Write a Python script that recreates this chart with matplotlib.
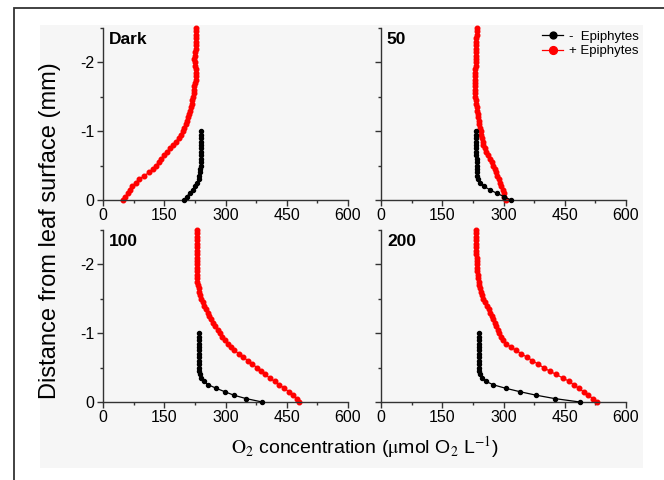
"""Oxygen micro-profiles above leaf surface, with and without epiphytes."""
import matplotlib
matplotlib.use('Agg')
import matplotlib.pyplot as plt
from matplotlib.patches import Rectangle
from matplotlib.ticker import MultipleLocator

plt.rcParams['font.family'] = ['Liberation Sans', 'DejaVu Sans']
plt.rcParams['mathtext.fontset'] = 'stix'
plt.rcParams['axes.unicode_minus'] = False

PANELS = ['Dark', '50', '100', '200']

# depth (mm) of each measurement, 0 = leaf surface
RED_DEPTH = [0, -0.05, -0.1, -0.15, -0.2, -0.25, -0.3, -0.35, -0.4, -0.45,
             -0.5, -0.55, -0.6, -0.65, -0.7, -0.75, -0.8, -0.85, -0.9, -0.95,
             -1.0, -1.05, -1.1, -1.15, -1.2, -1.25, -1.3, -1.35, -1.4, -1.45,
             -1.5, -1.55, -1.6, -1.65, -1.7, -1.75, -1.8, -1.85, -1.9, -1.95,
             -2.0, -2.05, -2.1, -2.15, -2.2, -2.25, -2.3, -2.35, -2.4, -2.45, -2.5]
BLACK_DEPTH = [0, -0.05, -0.1, -0.15, -0.2, -0.25, -0.3, -0.35, -0.4, -0.45,
               -0.5, -0.55, -0.6, -0.65, -0.7, -0.75, -0.8, -0.85, -0.9, -0.95, -1.0]

# O2 (umol/L), + epiphytes
red_dark = [50, 55, 61, 67, 72, 80, 88, 100, 113, 122, 130, 136, 143, 150, 157, 164, 172,
            178, 186, 191, 195, 199, 203, 206, 208, 211, 213, 216, 218, 219, 221, 222, 224,
            224, 226, 227, 227, 228, 227, 226, 225, 224, 225, 226, 227, 227, 227, 228, 228,
            228, 228]
red_50 = [305, 302, 300, 298, 295, 292, 289, 285, 282, 278, 275, 271, 267, 262, 258, 254, 251,
          249, 247, 246, 244, 242, 241, 239, 238, 237, 235, 234, 233, 232, 231, 230, 230,
          229, 229, 229, 229, 230, 231, 232, 232, 232, 232, 233, 233, 233, 233, 233, 234,
          234, 234]
red_100 = [481, 474, 465, 455, 444, 432, 420, 408, 397, 386, 377, 366, 355, 344, 333, 322, 313,
           305, 298, 292, 287, 281, 275, 269, 264, 260, 256, 252, 248, 245, 241, 238, 236,
           234, 232, 231, 231, 231, 231, 231, 231, 231, 230, 230, 230, 230, 230, 230, 230,
           230, 230]
red_200 = [530, 519, 507, 496, 484, 472, 461, 445, 429, 413, 398, 385, 371, 358, 344, 331, 318,
           306, 299, 294, 290, 286, 282, 278, 275, 271, 268, 264, 259, 255, 251, 248, 245,
           243, 241, 239, 238, 237, 236, 235, 234, 234, 234, 233, 233, 233, 233, 233, 233,
           233, 233]

# O2 (umol/L), - epiphytes
black_dark = [198, 205, 212, 220, 226, 230, 234, 236, 237, 238, 239, 239, 240, 240, 240, 240,
              240, 240, 240, 240, 240]
black_50 = [318, 301, 283, 266, 252, 243, 238, 236, 235, 234, 234, 234, 234, 233, 233, 233,
            233, 233, 233, 233, 233]
black_100 = [390, 350, 320, 298, 277, 258, 247, 240, 237, 236, 235, 235, 235, 235, 235, 235,
             235, 235, 235, 235, 235]
black_200 = [487, 425, 379, 340, 305, 275, 257, 247, 242, 241, 240, 240, 240, 240, 240, 240,
             240, 240, 240, 240, 240]

RED = [red_dark, red_50, red_100, red_200]
BLACK = [black_dark, black_50, black_100, black_200]

W, H = 664, 480
AX_POS = [(103, 28), (381, 28), (103, 230), (381, 230)]  # left, top in pixels
AX_W, AX_H = 245, 172
AXIS_COL = '#333333'


def style_axis(ax, show_ylabels):
    ax.set_facecolor('none')
    ax.set_xlim(0, 600)
    ax.set_ylim(0, -2.5)
    ax.xaxis.set_major_locator(MultipleLocator(150))
    ax.xaxis.set_minor_locator(MultipleLocator(75))
    ax.yaxis.set_major_locator(MultipleLocator(1))
    ax.yaxis.set_minor_locator(MultipleLocator(0.5))
    for s in ['top', 'right']:
        ax.spines[s].set_visible(False)
    for s in ['left', 'bottom']:
        ax.spines[s].set_color(AXIS_COL)
        ax.spines[s].set_linewidth(1.0)
    ax.tick_params(which='major', direction='out', length=4, width=1, color=AXIS_COL,
                   labelsize=11.5, pad=2, labelleft=show_ylabels)
    ax.tick_params(which='minor', direction='out', length=2.5, width=1, color=AXIS_COL)


def main():
    fig = plt.figure(figsize=(W / 100, H / 100), dpi=100)
    fig.patches.append(Rectangle((40 / W, 1 - 468 / H), 603 / W, 443 / H, transform=fig.transFigure,
                                 facecolor='#f6f6f6', edgecolor='none', zorder=-5))
    fig.patches.append(Rectangle((14 / W, -0.2), 1.2, 1.2 - 8 / H, transform=fig.transFigure,
                                 fill=False, edgecolor='#333333', linewidth=1.3, zorder=-4))

    for i, name in enumerate(PANELS):
        left, top = AX_POS[i]
        ax = fig.add_axes([left / W, 1 - (top + AX_H) / H, AX_W / W, AX_H / H])
        style_axis(ax, show_ylabels=(i % 2 == 0))
        ax.plot(BLACK[i], BLACK_DEPTH, '-o', color='black', lw=0.9, ms=2.9,
                label='-  Epiphytes', clip_on=False, zorder=3)
        ax.plot(RED[i], RED_DEPTH, '-o', color='#ff0000', lw=0.9, ms=3.3,
                label='+ Epiphytes', clip_on=False, zorder=2)
        ax.text(0.024, 0.975, name, transform=ax.transAxes, ha='left', va='top',
                fontsize=12.5, fontweight='bold')
        if i == 1:
            ax.legend(loc='upper left', bbox_to_anchor=(0.62, 1.04), frameon=False,
                      fontsize=9.5, handlelength=1.6, handletextpad=0.4, labelspacing=0.2,
                      borderpad=0.2, markerscale=1.7)

    fig.text(0.075, 0.52, 'Distance from leaf surface (mm)', rotation=90, ha='center',
             va='center', fontsize=17)
    fig.text(0.55, 0.068, r'$\mathrm{O_2}$ concentration ($\mathrm{\mu}$mol O$_2$ L$^{-1}$)',
             ha='center', va='center', fontsize=14)

    fig.savefig('out.png', dpi=100)
    plt.close(fig)


if __name__ == '__main__':
    main()
